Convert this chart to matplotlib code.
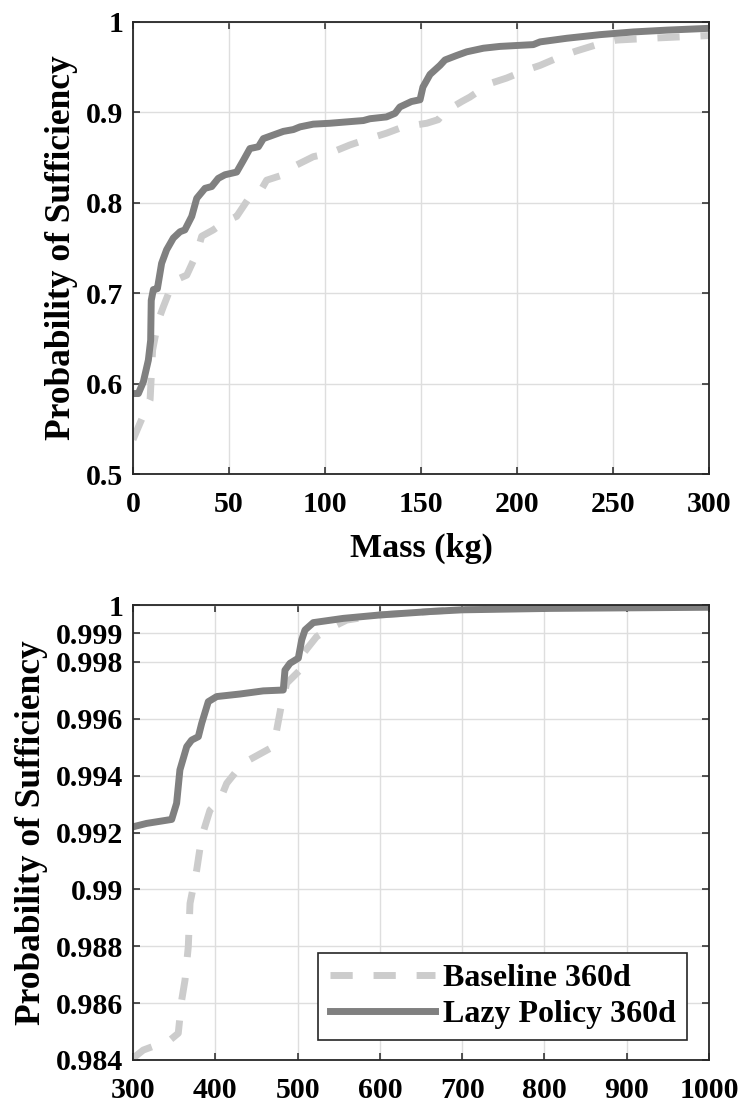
import numpy as np
import matplotlib
matplotlib.use('Agg')
import matplotlib.pyplot as plt
from matplotlib.ticker import FuncFormatter

plt.rcParams['font.family'] = ['Liberation Serif', 'DejaVu Serif']
plt.rcParams['font.weight'] = 'bold'

# --- datos ---
# panel superior: 0-300 kg
masa_lazy_top = [0, 2.8, 5.4, 8, 9.2, 9.5, 10.6, 12.7, 14.9, 17.5, 21, 24.5, 27, 30.6, 33.2,
                 37.5, 41, 44.4, 47.9, 54, 57.5, 60.9, 65.3, 67.9, 73.1, 78.3, 83.5, 87, 93.9,
                 102.6, 120, 123.4, 132, 136.5, 139, 145, 149.5, 151, 154.7, 159.9, 162.5,
                 168.6, 173.8, 182.5, 191.1, 208.5, 212, 225.9, 243.2, 260.6, 278, 300]
prob_lazy_top = [0.589, 0.589, 0.602, 0.626, 0.648, 0.692, 0.704, 0.705, 0.733, 0.748, 0.761,
                 0.768, 0.770, 0.785, 0.805, 0.816, 0.818, 0.827, 0.831, 0.834, 0.847, 0.860,
                 0.862, 0.871, 0.875, 0.879, 0.881, 0.884, 0.887, 0.888, 0.891, 0.893, 0.895,
                 0.899, 0.906, 0.912, 0.914, 0.928, 0.942, 0.952, 0.958, 0.963, 0.967, 0.971,
                 0.973, 0.975, 0.978, 0.982, 0.986, 0.989, 0.991, 0.993]

masa_base_top = [0, 3.6, 8.9, 10.2, 13.2, 15.8, 19.3, 22.7, 28, 33.2, 35.8, 41.8, 47.9, 54,
                 60.9, 66.1, 69.6, 78.3, 83.5, 93.9, 102.6, 113, 120, 132, 140.8, 153, 159,
                 162.5, 171.2, 175.5, 186, 194.6, 205, 212, 224.1, 231, 243.2, 251.9, 269.3, 300]
prob_base_top = [0.538, 0.556, 0.582, 0.637, 0.670, 0.685, 0.704, 0.715, 0.720, 0.744, 0.763,
                 0.770, 0.779, 0.785, 0.807, 0.812, 0.825, 0.831, 0.840, 0.851, 0.855, 0.864,
                 0.869, 0.877, 0.884, 0.888, 0.892, 0.901, 0.912, 0.917, 0.932, 0.938, 0.947,
                 0.952, 0.963, 0.968, 0.976, 0.980, 0.982, 0.985]

# panel inferior: 300-1000 kg
masa_lazy_bot = [300, 316.6, 347, 353, 357, 365.3, 371.3, 379.4, 383.5, 391.5, 401.7, 430,
                 458.3, 482.6, 484.7, 490.8, 500.9, 505, 509, 519.1, 555.6, 600.2, 661, 700,
                 806.7, 1000]
prob_lazy_bot = [0.99220, 0.99232, 0.99246, 0.99303, 0.99420, 0.99502, 0.99525, 0.99537,
                 0.99584, 0.99660, 0.99678, 0.99687, 0.99698, 0.99701, 0.99771, 0.99795,
                 0.99813, 0.99877, 0.99912, 0.99938, 0.99953, 0.99965, 0.99977, 0.99983,
                 0.99988, 0.99992]

masa_base_bot = [300, 312.5, 345, 355, 359.2, 363.2, 367.2, 369.3, 377.4, 383.5, 393.6, 405.7,
                 413.9, 430, 442.2, 470.5, 474.6, 480.7, 486.8, 502.9, 507, 523.2, 539.4,
                 559.7, 600, 700, 800, 1000]
prob_base_bot = [0.98406, 0.98435, 0.98470, 0.98494, 0.98611, 0.98681, 0.98799, 0.98951,
                 0.99068, 0.99185, 0.99279, 0.99314, 0.99373, 0.99431, 0.99457, 0.99502,
                 0.99560, 0.99654, 0.99725, 0.99771, 0.99830, 0.99889, 0.99918, 0.99947,
                 0.99965, 0.99985, 0.99995, 1.0]

xticks_top = [0, 50, 100, 150, 200, 250, 300]
yticks_top = [0.5, 0.6, 0.7, 0.8, 0.9, 1.0]
xticks_bot = [300, 400, 500, 600, 700, 800, 900, 1000]
yticks_bot = [0.984, 0.986, 0.988, 0.99, 0.992, 0.994, 0.996, 0.998, 0.999, 1.0]

etiquetas = ['Baseline 360d', 'Lazy Policy 360d']

COLOR_BASE = '#cccccc'
COLOR_LAZY = '#808080'
EJE = '#262626'


def estilo_ejes(ax, xt, yt, xlim, ylim):
    ax.set_xlim(*xlim)
    ax.set_ylim(*ylim)
    ax.set_xticks(xt)
    ax.set_yticks(yt)
    ax.yaxis.set_major_formatter(FuncFormatter(lambda v, p: '%g' % round(v, 4)))
    ax.xaxis.set_major_formatter(FuncFormatter(lambda v, p: '%g' % v))
    ax.grid(True, color='#dedede', linewidth=1.0)
    ax.set_axisbelow(True)
    ax.tick_params(direction='in', length=5, width=1.1, color=EJE, labelsize=21.5,
                   top=True, right=True)
    ax.tick_params(axis='x', pad=12)
    ax.tick_params(axis='y', pad=7)
    for s in ax.spines.values():
        s.set_color(EJE)
        s.set_linewidth(1.3)
    for lab in ax.get_xticklabels() + ax.get_yticklabels():
        lab.set_fontweight('bold')


fig = plt.figure(figsize=(7.44, 11.11), dpi=100)
W, H = 744.0, 1111.0

ax1 = fig.add_axes([133 / W, 1 - 474 / H, 576 / W, 452 / H])
ax1.plot(masa_base_top, prob_base_top, color=COLOR_BASE, lw=5, dashes=(3.2, 3.0),
         dash_capstyle='butt', label=etiquetas[0])
ax1.plot(masa_lazy_top, prob_lazy_top, color=COLOR_LAZY, lw=5, label=etiquetas[1])
estilo_ejes(ax1, xticks_top, yticks_top, (0, 300), (0.5, 1.0))
ax1.set_xlabel('Mass (kg)', fontsize=24.5, fontweight='bold', labelpad=11)
ax1.set_ylabel('Probability of Sufficiency', fontsize=25.5, fontweight='bold', labelpad=6)

ax2 = fig.add_axes([133 / W, 1 - 1060 / H, 576 / W, 455 / H])
ax2.plot(masa_base_bot, prob_base_bot, color=COLOR_BASE, lw=5, dashes=(3.2, 3.0),
         dash_capstyle='butt', label=etiquetas[0])
ax2.plot(masa_lazy_bot, prob_lazy_bot, color=COLOR_LAZY, lw=5, label=etiquetas[1])
estilo_ejes(ax2, xticks_bot, yticks_bot, (300, 1000), (0.984, 1.0))
ax2.set_ylabel('Probability of Sufficiency', fontsize=25.5, fontweight='bold', labelpad=6)

leg = ax2.legend(loc='lower right', bbox_to_anchor=(0.962, 0.044), borderaxespad=0,
                 frameon=True, fancybox=False, framealpha=1,
                 edgecolor=EJE, handlelength=3.3, handletextpad=0.25,
                 labelspacing=0.2, borderpad=0.35, prop={'weight': 'bold', 'size': 23})
leg.get_frame().set_linewidth(1.2)

fig.savefig('out.png', dpi=100, facecolor='white')
